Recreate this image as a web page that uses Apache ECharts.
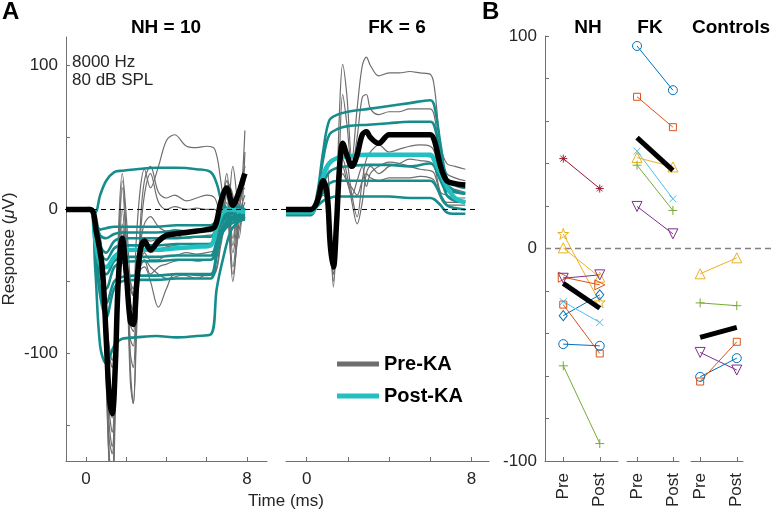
<!DOCTYPE html>
<html>
<head>
<meta charset="utf-8">
<script src="https://cdn.jsdelivr.net/npm/echarts@6/dist/echarts.min.js"></script>
<style>html,body{margin:0;padding:0;background:#fff}#main{width:771px;height:513px}</style>
</head>
<body>
<div id="main"></div>
<script>
// ---- panel A, NH = 10 ----
const tPreNH = [-1, 0.2, 0.5, 0.8, 1.0, 1.15, 1.3, 1.45, 1.6, 1.8, 2.0, 2.2, 2.35, 2.5, 2.7, 2.9, 3.2, 3.6, 4.0, 4.4, 5.0, 5.5, 6.0, 6.4, 6.7, 7.0, 7.3, 7.6, 7.9];
const preNH = [
  [0, 0, -5, -30, -100, -170, -190, -120, -20, 25, -5, -50, -60, -20, 15, 28, 15, 30, 48, 52, 44, 43, 44, 42, 20, -10, 30, 0, 55],
  [0, 0, -8, -35, -110, -180, -200, -140, -40, 20, -20, -110, -135, -80, -10, 20, 30, 12, 8, 10, 6, 8, 10, 8, -5, 20, 10, -20, 40],
  [0, 0, -10, -40, -120, -175, -190, -130, -40, 15, -30, -120, -135, -90, -20, 10, 25, 5, 0, 2, 0, 1, 0, 0, -10, 10, -25, 15, 30],
  [0, 0, -10, -45, -110, -160, -170, -120, -50, 0, -40, -100, -110, -70, -25, -10, -5, -12, -15, -14, -15, -15, -14, -13, 0, 20, -5, 10, 30],
  [0, 0, -12, -50, -100, -150, -165, -130, -60, -10, -50, -90, -95, -65, -30, -20, -22, -20, -18, -18, -20, -19, -18, -17, -5, 25, -10, 5, 20],
  [0, 0, -15, -55, -95, -140, -155, -120, -60, -15, -40, -80, -85, -60, -35, -25, -30, -28, -26, -25, -24, -25, -24, -22, -8, 15, -20, 10, 15],
  [0, 0, -15, -45, -90, -130, -145, -110, -55, -20, -45, -75, -75, -55, -38, -30, -35, -35, -32, -32, -30, -31, -30, -28, -10, 10, -30, 0, 20],
  [0, 0, -20, -45, -80, -115, -130, -100, -50, -25, -45, -65, -70, -50, -40, -35, -45, -40, -38, -36, -35, -36, -35, -34, -15, 5, -40, -5, 10],
  [0, 0, -20, -50, -75, -100, -110, -90, -50, -30, -40, -55, -60, -50, -42, -40, -50, -68, -55, -45, -46, -48, -45, -44, -20, 0, -50, -10, 5],
  [0, 0, -18, -40, -70, -95, -105, -85, -45, -25, -35, -50, -55, -45, -38, -35, -40, -45, -48, -47, -45, -46, -46, -45, -25, -5, -45, -15, 0]
];
const preMeanNH = [0, 0, -15, -40, -90, -130, -142, -110, -50, -20, -45, -78, -80, -55, -28, -22, -28, -22, -18, -17, -16, -15, -14, -12, 5, 15, 3, 12, 25];

const tPostNH = [-1, 0.2, 0.45, 0.7, 1.0, 1.4, 1.8, 2.5, 3.5, 4.5, 5.5, 6.2, 6.5, 6.8, 7.2, 7.6, 7.9];
const postNH = [
  [0, 0, -2, 10, 20, 26, 27, 28, 29, 29, 28, 26, 18, 4, 0, 2, 0],
  [0, 0, -8, -14, -13, -12, -12, -12, -12, -11, -11, -11, -8, -3, 0, -2, -3],
  [0, 0, -10, -18, -20, -17, -16, -16, -16, -15, -15, -15, -10, -4, -2, -4, -3],
  [0, 0, -12, -25, -30, -22, -20, -20, -20, -20, -19, -19, -12, -6, -3, -5, -4],
  [0, 0, -15, -30, -35, -27, -25, -25, -25, -24, -24, -24, -16, -8, -5, -6, -5],
  [0, 1, -20, -40, -45, -36, -33, -33, -33, -32, -32, -32, -22, -12, -6, -8, -6],
  [0, 0, -22, -45, -55, -40, -37, -36, -36, -35, -35, -35, -25, -12, -7, -6, -5],
  [0, 0, -25, -55, -65, -50, -47, -46, -46, -45, -45, -45, -30, -15, -8, -6, -6],
  [0, -1, -28, -60, -75, -55, -50, -49, -49, -48, -48, -48, -32, -16, -10, -8, -7],
  [0, 0, -40, -95, -107, -95, -90, -89, -88, -89, -88, -87, -55, -35, -15, -8, -5]
];
const postMeanNH = [0, 0, -20, -38, -40, -33, -29, -28, -28, -27, -26, -25, -12, -2, 0, -1, -2];

// ---- panel A, FK = 6 ----
const tPreFK = [-1, 0.2, 0.5, 0.8, 1.0, 1.15, 1.3, 1.45, 1.6, 1.75, 1.95, 2.2, 2.45, 2.7, 2.9, 3.1, 3.5, 4.0, 4.5, 5.0, 5.5, 6.0, 6.2, 6.5, 6.8, 7.2, 7.7];
const preFK = [
  [0, 0, 5, 25, 30, -20, -50, 0, 70, 101, 80, 35, 70, 100, 106, 100, 93, 95, 95, 96, 95, 94, 85, 45, 32, 30, 28],
  [0, 0, 5, 20, 25, -10, -54, -20, 40, 80, 60, 30, 50, 78, 80, 70, 66, 68, 68, 70, 70, 70, 65, 35, 25, 22, 20],
  [0, 0, 4, 18, 15, -25, -45, -15, 30, 45, 35, 10, -5, 20, 35, 40, 45, 40, 42, 44, 45, 44, 40, 20, 15, 14, 12],
  [0, 0, 4, 15, 10, -25, -40, -10, 25, 35, 25, 5, -10, 5, 25, 30, 25, 30, 32, 35, 34, 33, 30, 12, 10, 8, 8],
  [0, 0, 3, 12, 5, -30, -45, -15, 20, 30, 20, 10, 20, 30, 16, 25, 30, 33, 32, 30, 28, 27, 25, 10, 5, 5, 5],
  [0, 0, 3, 10, 5, -20, -35, -10, 15, 25, 20, 15, 10, 20, 25, 22, 20, 22, 22, 22, 23, 22, 20, 8, 3, 3, 3]
];
const preMeanFK = [0, 0, 5, 20, 10, -25, -40, -10, 30, 46, 38, 30, 38, 52, 54, 50, 46, 52, 52, 52, 52, 52, 48, 30, 20, 18, 17];

const tPostFK = [-1, 0.2, 0.5, 0.8, 1.1, 1.5, 2.0, 3.0, 4.0, 5.0, 6.0, 6.2, 6.5, 6.8, 7.2, 7.7];
const postFK = [
  [-2, -2, 10, 40, 62, 66, 68, 70, 72, 74, 76, 72, 45, 22, 17, 15],
  [-3, -3, 8, 35, 52, 56, 58, 59, 60, 61, 61, 58, 38, 18, 13, 11],
  [-2, -2, 6, 25, 33, 36, 37, 38, 38, 38, 37, 35, 24, 10, 6, 5],
  [-3, -3, 5, 18, 26, 29, 30, 31, 31, 30, 32, 30, 20, 13, 12, 11],
  [-3, -3, 4, 12, 18, 20, 20, 20, 20, 20, 20, 18, 10, 3, 1, 0],
  [-4, -4, 2, 6, 8, 9, 9, 9, 9, 8, 8, 7, 3, -2, -3, -3]
];
const postMeanFK = [-2, -2, 6, 23, 32, 36, 37, 38, 38, 38, 38, 34, 25, 16, 8, 5];

const zeroX = [0, 1];
const zeroY = [0, 0];
const timeTicks = [0, 2, 4, 6, 8];
const timeLabels = [0, 8];
const respTicks = [-150, -100, -50, 0, 50, 100];
const respLabels = [-100, 0, 100];

// ---- panel B ----
const phases = [1, 2];
const phaseNames = ['Pre', 'Post'];
const nhPre = [42.3, 6.9, 0.3, -13.5, -14.0, -31.6, -25.0, -26.4, -45.0, -55.2];
const nhPost = [28.2, -25.3, -13.5, -17.1, -12.4, -21.8, -34.8, -49.4, -45.8, -91.8];
const nhMean = [-16.4, -28.1];
const fkPre = [95.3, 71.4, 45.8, 42.8, 39.2, 19.8];
const fkPost = [74.5, 57.1, 23.4, 38.4, 17.9, 6.9];
const fkMean = [52.2, 36.8];
const ctPre = [-11.9, -25.6, -48.9, -60.4, -62.6];
const ctPost = [-4.4, -26.9, -57.2, -51.6, -43.9];
const ctMean = [-41.8, -37.1];
const bTicks = [-100, -80, -60, -40, -20, 0, 20, 40, 60, 80, 100];
const bLabels = [-100, 0, 100];

const BLUE = '#0072BD', ORANGE = '#D95319', YELLOW = '#EDB120', PURPLE = '#7E2F8E',
  GREEN = '#77AC30', LBLUE = '#4DBEEE', DRED = '#A2142F';
const nhStyle = [[DRED, 'asterisk'], [YELLOW, 'star'], [YELLOW, 'up'], [ORANGE, 'right'], [PURPLE, 'down'],
  [BLUE, 'diamond'], [LBLUE, 'x'], [ORANGE, 'square'], [BLUE, 'circle'], [GREEN, 'plus']];
const fkStyle = [[BLUE, 'circle'], [ORANGE, 'square'], [LBLUE, 'x'], [YELLOW, 'up'], [GREEN, 'plus'], [PURPLE, 'down']];
const ctStyle = [[YELLOW, 'up'], [GREEN, 'plus'], [PURPLE, 'down'], [BLUE, 'circle'], [ORANGE, 'square']];

const SYM = {
  circle: 'path://M10,5A5,5,0,1,1,0,5A5,5,0,1,1,10,5Z',
  square: 'path://M0,0L10,0L10,10L0,10Z',
  diamond: 'path://M5,0L10,5L5,10L0,5Z',
  up: 'path://M5,0L10,9L0,9Z',
  down: 'path://M0,0L10,0L5,9Z',
  right: 'path://M0,0L9,5L0,10Z',
  x: 'path://M0,0L10,10M10,0L0,10',
  plus: 'path://M5,0L5,10M0,5L10,5',
  asterisk: 'path://M5,0L5,10M0,5L10,5M1.5,1.5L8.5,8.5M8.5,1.5L1.5,8.5',
  star: 'path://M5,0L6.2,3.6L10,3.6L6.9,5.9L8.1,9.5L5,7.3L1.9,9.5L3.1,5.9L0,3.6L3.8,3.6Z'
};
const SIZE = {circle: 9, square: 7, diamond: [8, 10], up: 10, down: 10, right: 10, x: 7, plus: 9, asterisk: 8, star: 11};

const FONT = '"Liberation Sans", Arial, Helvetica, sans-serif';
const AX = '#707070';
const TXT = '#262626';
const GRAY = '#6e6e6e', TEAL = '#178c8c', CYAN = '#22c0c0';

const chart = echarts.init(document.getElementById('main'));

const series = [];
function pairs(t, v) { return t.map((x, i) => [x, v[i]]); }
function addTraces(list, t, g, name, color, width, z) {
  list.forEach(v => series.push({
    name, type: 'line', xAxisIndex: g, yAxisIndex: g, data: pairs(t, v), symbol: 'none',
    smooth: 0.35, lineStyle: {color, width}, itemStyle: {color}, z, silent: true
  }));
}
addTraces(preNH, tPreNH, 0, 'Pre-KA', GRAY, 1.2, 2);
addTraces(postNH, tPostNH, 0, 'Post-KA traces', TEAL, 2.6, 3);
addTraces([postMeanNH], tPostNH, 0, 'Post-KA', CYAN, 4.5, 4);
addTraces([preMeanNH], tPreNH, 0, 'Pre-KA mean', '#000', 5.5, 5);
addTraces(preFK, tPreFK, 1, 'Pre-KA', GRAY, 1.2, 2);
addTraces(postFK, tPostFK, 1, 'Post-KA traces', TEAL, 2.6, 3);
addTraces([postMeanFK], tPostFK, 1, 'Post-KA', CYAN, 4.5, 4);
addTraces([preMeanFK], tPreFK, 1, 'Pre-KA mean', '#000', 5.5, 5);

// dashed zero lines
series.push({type: 'line', xAxisIndex: 2, yAxisIndex: 2, data: pairs(zeroX, zeroY), symbol: 'none',
  lineStyle: {color: '#000', width: 1, type: [5, 4]}, z: 6, silent: true});
series.push({type: 'line', xAxisIndex: 6, yAxisIndex: 6, data: pairs(zeroX, zeroY), symbol: 'none',
  lineStyle: {color: '#808080', width: 1.5, type: [6, 4]}, z: 1, silent: true});

function addGroup(pre, post, mean, styles, g) {
  pre.forEach((p, i) => {
    const [c, m] = styles[i];
    series.push({
      type: 'line', xAxisIndex: g, yAxisIndex: g, data: pairs(phases, [p, post[i]]),
      symbol: SYM[m], symbolSize: SIZE[m], showSymbol: true,
      lineStyle: {color: c, width: 1}, itemStyle: {color: 'rgba(0,0,0,0)', borderColor: c, borderWidth: 1},
      z: 3, silent: true
    });
  });
  series.push({type: 'line', xAxisIndex: g, yAxisIndex: g, data: pairs(phases, mean), symbol: 'none',
    lineStyle: {color: '#000', width: 5}, z: 4, silent: true});
}
addGroup(nhPre, nhPost, nhMean, nhStyle, 3);
addGroup(fkPre, fkPost, fkMean, fkStyle, 4);
addGroup(ctPre, ctPost, ctMean, ctStyle, 5);

const label = {color: TXT, fontSize: 17, fontFamily: FONT};
function timeAxis(g, max) {
  return {gridIndex: g, type: 'value', min: -1, max,
    axisLine: {onZero: false, lineStyle: {color: AX}},
    axisTick: {inside: true, length: 4, customValues: timeTicks, lineStyle: {color: AX}},
    axisLabel: Object.assign({customValues: timeLabels, margin: 10}, label),
    splitLine: {show: false}};
}
function phaseAxis(g, min, max) {
  return {gridIndex: g, type: 'value', min, max,
    axisLine: {onZero: false, lineStyle: {color: AX}},
    axisTick: {inside: true, length: 4, customValues: phases, lineStyle: {color: AX}},
    axisLabel: Object.assign({customValues: phases, rotate: 90, margin: 12,
      formatter: v => phaseNames[phases.indexOf(v)]}, label),
    splitLine: {show: false}};
}
function hidden(g, min, max) {
  return {gridIndex: g, type: 'value', min, max, show: false, splitLine: {show: false}};
}

const option = {
  animation: false,
  backgroundColor: '#fff',
  grid: [
    {left: 65, top: 37, width: 202, height: 424},
    {left: 286, top: 37, width: 203, height: 424},
    {left: 65, top: 37, width: 410, height: 424},
    {left: 545, top: 36, width: 73, height: 425},
    {left: 627, top: 36, width: 52, height: 425},
    {left: 691, top: 36, width: 52, height: 425},
    {left: 545, top: 36, width: 226, height: 425}
  ],
  xAxis: [
    timeAxis(0, 9),
    timeAxis(1, 8.85),
    hidden(2, 0, 1),
    phaseAxis(3, 0.5, 2.5),
    phaseAxis(4, 0.72, 2.17),
    phaseAxis(5, 0.75, 2.17),
    hidden(6, 0, 1)
  ],
  yAxis: [
    {gridIndex: 0, type: 'value', min: -175, max: 120,
      axisLine: {show: true, onZero: false, lineStyle: {color: AX}},
      axisTick: {show: true, inside: true, length: 4, customValues: respTicks, lineStyle: {color: AX}},
      axisLabel: Object.assign({customValues: respLabels, margin: 8}, label),
      splitLine: {show: false},
      name: 'Response ({i|μ}V)', nameLocation: 'middle', nameRotate: 90, nameGap: 48,
      nameTextStyle: {color: TXT, fontSize: 17, fontFamily: FONT,
        rich: {i: {fontStyle: 'italic', fontSize: 17, fontFamily: FONT, color: TXT}}}},
    hidden(1, -175, 120),
    hidden(2, -175, 120),
    {gridIndex: 3, type: 'value', min: -100, max: 100,
      axisLine: {show: true, onZero: false, lineStyle: {color: AX}},
      axisTick: {show: true, inside: true, length: 4, customValues: bTicks, lineStyle: {color: AX}},
      axisLabel: Object.assign({customValues: bLabels, margin: 8}, label),
      splitLine: {show: false}},
    hidden(4, -100, 100),
    hidden(5, -100, 100),
    hidden(6, -100, 100)
  ],
  title: [
    {text: 'A', left: 2, top: 0, padding: 0, textStyle: {fontSize: 24, fontWeight: 'bold', color: '#000', fontFamily: FONT}},
    {text: 'B', left: 482, top: 0, padding: 0, textStyle: {fontSize: 24, fontWeight: 'bold', color: '#000', fontFamily: FONT}},
    {text: 'NH = 10', left: 166, top: 18, padding: 0, textAlign: 'center', textStyle: {fontSize: 19, fontWeight: 'bold', color: '#000', fontFamily: FONT}},
    {text: 'FK = 6', left: 397, top: 18, padding: 0, textAlign: 'center', textStyle: {fontSize: 19, fontWeight: 'bold', color: '#000', fontFamily: FONT}},
    {text: 'NH', left: 588, top: 18, padding: 0, textAlign: 'center', textStyle: {fontSize: 19, fontWeight: 'bold', color: '#000', fontFamily: FONT}},
    {text: 'FK', left: 650, top: 18, padding: 0, textAlign: 'center', textStyle: {fontSize: 19, fontWeight: 'bold', color: '#000', fontFamily: FONT}},
    {text: 'Controls', left: 731, top: 18, padding: 0, textAlign: 'center', textStyle: {fontSize: 19, fontWeight: 'bold', color: '#000', fontFamily: FONT}},
    {text: '8000 Hz\n80 dB SPL', left: 72, top: 53, padding: 0, textStyle: {fontSize: 17, fontWeight: 'normal', lineHeight: 18, color: TXT, fontFamily: FONT}},
    {text: 'Time (ms)', left: 286, top: 493, padding: 0, textAlign: 'center', textStyle: {fontSize: 17, fontWeight: 'normal', color: TXT, fontFamily: FONT}}
  ],
  legend: {
    left: 332, top: 349, orient: 'vertical', itemWidth: 42, itemHeight: 5, itemGap: 12,
    textStyle: {fontSize: 20, fontWeight: 'bold', color: '#000', fontFamily: FONT},
    data: [{name: 'Pre-KA', icon: 'rect'}, {name: 'Post-KA', icon: 'rect'}],
    selectedMode: false
  },
  series
};
chart.setOption(option);
</script>
</body>
</html>
